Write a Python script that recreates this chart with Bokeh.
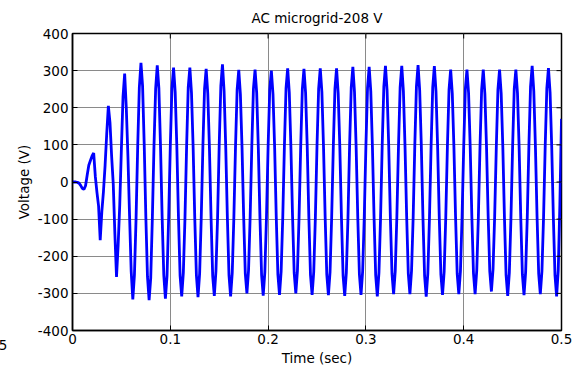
from math import pi
from bokeh.plotting import figure
from bokeh.models import Range1d, FixedTicker, Label, ColumnDataSource
from bokeh.embed import file_html
from bokeh.resources import INLINE

# ---------------- data ----------------
title_text = "AC microgrid-208 V"
x_label = "Time (sec)"
y_label = "Voltage (V)"
x_ticks = [0, 0.1, 0.2, 0.3, 0.4, 0.5]
x_tick_labels = ["0", "0.1", "0.2", "0.3", "0.4", "0.5"]
y_ticks = [-400, -300, -200, -100, 0, 100, 200, 300, 400]
y_tick_labels = ["-400", "-300", "-200", "-100", "0", "100", "200", "300", "400"]
stray_text = "5"

sample_interval = 1 / 600  # seconds between samples
voltage = [
    0, 0, 0, -1, -3, -9, -17, -20, -10, 18,
    45, 58, 70, 78, 15, -28, -65, -157, -80, -25,
    45, 130, 205, 160, 70, -5, -140, -256, -170, -60,
    90, 230, 292, 200, 70, -90, -240, -316, -250, -98,
    95, 255, 321, 258, 100, -95, -255, -318, -258, -96,
    98, 250, 314, 252, 96, -96, -250, -314, -252, -95,
    96, 252, 308, 242, 97, -93, -252, -308, -244, -98,
    94, 255, 308, 240, 95, -96, -250, -310, -246, -94,
    97, 250, 305, 238, 93, -95, -253, -307, -240, -97,
    99, 258, 317, 245, 96, -94, -251, -308, -245, -95,
    93, 249, 302, 236, 94, -92, -246, -300, -238, -93,
    95, 251, 303, 240, 92, -96, -250, -306, -243, -96,
    94, 248, 300, 237, 95, -94, -249, -304, -241, -95,
    96, 252, 306, 241, 93, -93, -245, -300, -239, -94,
    95, 250, 305, 240, 96, -95, -250, -304, -242, -96,
    97, 251, 306, 242, 94, -94, -249, -305, -243, -95,
    94, 250, 306, 239, 95, -96, -252, -307, -244, -97,
    98, 254, 310, 243, 96, -93, -248, -304, -241, -94,
    96, 253, 310, 244, 95, -95, -251, -308, -245, -96,
    99, 256, 313, 246, 97, -94, -247, -302, -240, -93,
    97, 255, 313, 245, 96, -92, -246, -302, -239, -95,
    98, 257, 315, 247, 98, -96, -252, -309, -246, -97,
    97, 255, 312, 244, 95, -94, -249, -304, -242, -95,
    95, 249, 303, 238, 94, -93, -247, -302, -240, -94,
    94, 250, 303, 239, 93, -94, -246, -302, -239, -95,
    95, 248, 303, 237, 94, -91, -241, -295, -235, -92,
    93, 249, 303, 238, 95, -96, -251, -307, -244, -96,
    94, 250, 303, 239, 94, -95, -249, -305, -243, -95,
    98, 256, 313, 245, 96, -93, -247, -302, -240, -94,
    96, 252, 307, 241, 95, -95, -251, -308, -238, -60,
    170,
]
time = [i * sample_interval for i in range(len(voltage))]

x_min, x_max = x_ticks[0], x_ticks[-1]
y_min, y_max = y_ticks[0], y_ticks[-1]

# ---------------- figure ----------------
FONT = "DejaVu Sans"
FS = "13.5px"

p = figure(
    width=576, height=370,
    output_backend="svg", toolbar_location=None,
    x_range=Range1d(x_min, x_max), y_range=Range1d(y_min, y_max),
    min_border_left=72, min_border_right=15,
    min_border_top=32, min_border_bottom=40,
    background_fill_color="white", border_fill_color="white",
)

p.title.text = title_text
p.title.align = "center"
p.title.standoff = 15
p.title.text_font = FONT
p.title.text_font_size = FS
p.title.text_font_style = "normal"
p.title.text_color = "black"

p.outline_line_color = "black"
p.outline_line_width = 1.5
p.outline_line_alpha = 1

# grid
p.xgrid.ticker = FixedTicker(ticks=x_ticks)
p.ygrid.ticker = FixedTicker(ticks=y_ticks)
for g in (p.xgrid, p.ygrid):
    g.grid_line_color = "#8a8a8a"
    g.grid_line_width = 1
    g.grid_line_alpha = 1

src = ColumnDataSource(dict(t=time, v=voltage))
p.line("t", "v", source=src, line_color="#0000ff", line_width=2.8)

# inward tick marks on the top and right edges of the box
p.scatter(x=x_ticks, y=[y_max] * len(x_ticks), marker="dash", size=10,
          angle=pi / 2, line_color="black", line_width=1)
p.scatter(x=[x_max] * len(y_ticks), y=y_ticks, marker="dash", size=10,
          line_color="black", line_width=1)

# main axes
xa = p.xaxis[0]
ya = p.yaxis[0]
xa.ticker = FixedTicker(ticks=x_ticks)
ya.ticker = FixedTicker(ticks=y_ticks)
xa.major_label_overrides = {t: l for t, l in zip(x_ticks, x_tick_labels)}
ya.major_label_overrides = {t: l for t, l in zip(y_ticks, y_tick_labels)}
xa.axis_label = x_label
ya.axis_label = y_label
for ax in (xa, ya):
    ax.axis_line_color = "black"
    ax.axis_line_width = 1.5
    ax.major_tick_in = 5
    ax.major_tick_out = 0
    ax.major_tick_line_color = "black"
    ax.minor_tick_line_color = None
    ax.major_label_text_font = FONT
    ax.major_label_text_font_size = FS
    ax.major_label_text_color = "black"
    ax.axis_label_text_font = FONT
    ax.axis_label_text_font_size = FS
    ax.axis_label_text_font_style = "normal"
    ax.axis_label_text_color = "black"
ya.major_label_standoff = 4
ya.axis_label_standoff = 3
xa.major_label_standoff = 3
xa.axis_label_standoff = 3

# stray cut-off tick label at the far left edge of the reference
# (placed in the left side panel so it is not clipped to the frame)
p.add_layout(Label(x=-0.0665, y=-440, text=stray_text, text_align="right",
                   text_baseline="alphabetic", text_font=FONT,
                   text_font_size=FS, text_color="black"), "left")

open("out.html", "w").write(file_html(p, INLINE))
